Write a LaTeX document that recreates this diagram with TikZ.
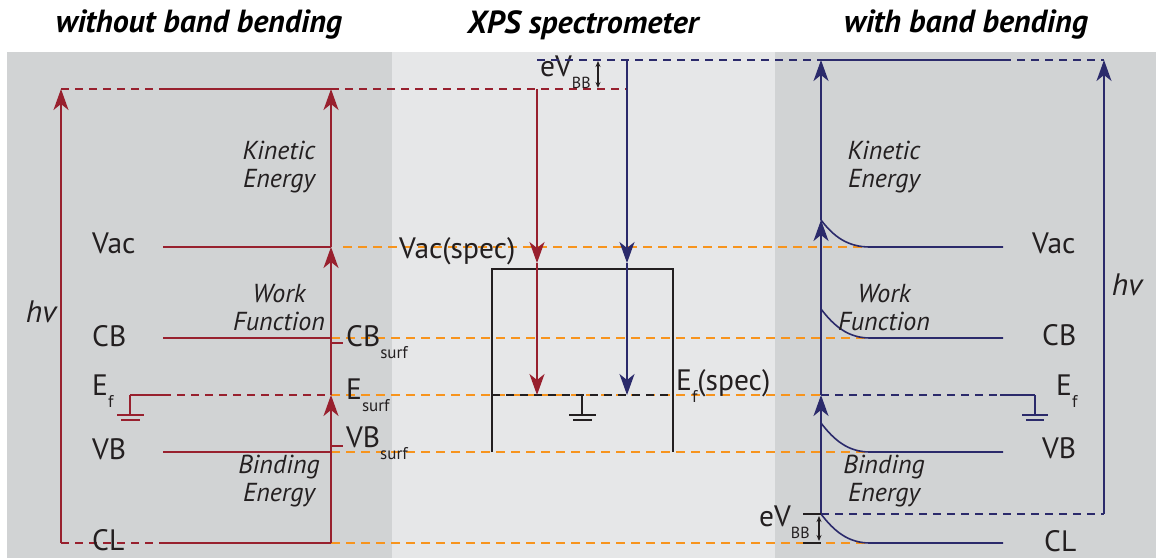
\documentclass[tikz,border=0pt]{standalone}
\usepackage{fontspec}
\setmainfont{PT Sans}
\usetikzlibrary{arrows.meta}
\definecolor{myred}{HTML}{98202E}
\definecolor{myblue}{HTML}{2B2A6B}
\definecolor{myorange}{HTML}{F7941D}
\definecolor{sidepanel}{HTML}{D1D3D4}
\definecolor{midpanel}{HTML}{E6E7E8}
\definecolor{ink}{HTML}{231F20}
\newcommand{\lvsub}[2]{#1\raisebox{-0.4em}{\fontsize{17}{17}\selectfont #2}}
\tikzset{
  lvl/.style={line width=1.6pt},
  dsh/.style={line width=1.6pt, dash pattern=on 8pt off 6pt},
  odsh/.style={myorange, line width=1.6pt, dash pattern=on 9pt off 6pt},
  arr/.style={-{Stealth[length=21pt,width=15pt,inset=6pt]}},
  smallarr/.style={{Stealth[length=6pt,width=5pt]}-{Stealth[length=6pt,width=5pt]}, line width=1.2pt, ink},
  lab/.style={font=\fontsize{29.5}{29.5}\selectfont, text=ink, inner sep=0pt},
  ital/.style={font=\fontsize{26}{28}\selectfont\itshape, text=ink, align=center, inner sep=0pt},
  ttl/.style={font=\fontsize{32}{32}\selectfont\bfseries\itshape, text=black, inner sep=0pt},
  gnd/.style={line width=1.6pt},
}
\begin{document}
\begin{tikzpicture}[x=1pt,y=-1pt]
\useasboundingbox (0,0) rectangle (1156,558);
% panels
\fill[sidepanel] (7,52) rectangle (392,558);
\fill[midpanel] (392,52) rectangle (775,558);
\fill[sidepanel] (775,52) rectangle (1156,558);
% titles
\node[ttl] (t1) at (199,25) {without band bending};
\node[ttl] (t2) at (583,25) {XPS spectrometer};
\node[ttl] (t3) at (966,25) {with band bending};

% coordinates: left panel
\coordinate (LhvB) at (61,543);   \coordinate (LhvT) at (61,89);
\coordinate (LkCL) at (331,543); \coordinate (LkEf) at (331,395);
\coordinate (LkVac) at (331,247); \coordinate (LkTop) at (331,89);
\coordinate (LTopS) at (163,89);
\coordinate (LVacS) at (163,247); \coordinate (LCBS) at (163,338);
\coordinate (LEfS) at (163,395); \coordinate (LVBS) at (163,452);
\coordinate (LCLS) at (163,543); \coordinate (LkCB) at (331,338);
\coordinate (LkVB) at (331,452);
\coordinate (LGnd) at (130,395); \coordinate (LGndB) at (130,415);
% middle
\coordinate (MrT) at (537,89); \coordinate (MrV) at (537,263); \coordinate (MrE) at (537,395);
\coordinate (MbT) at (627,60); \coordinate (MbV) at (627,263); \coordinate (MbE) at (627,395);
\coordinate (BoxTL) at (492,269); \coordinate (BoxTR) at (673,269);
\coordinate (BoxBL) at (492,452); \coordinate (BoxBR) at (673,452);
\coordinate (BoxEL) at (492,395); \coordinate (BoxER) at (673,395);
\coordinate (MGnd) at (582,395); \coordinate (MGndB) at (582,415);
\coordinate (RedEnd) at (627,89); \coordinate (BlueStart) at (537,60);
% right
\coordinate (RkB) at (821,514); \coordinate (RkEf) at (821,395);
\coordinate (RkVac) at (821,220); \coordinate (RkTop) at (821,60);
\coordinate (RTopE) at (1003,60); \coordinate (RhvT) at (1104,60); \coordinate (RhvB) at (1104,514);
\coordinate (RkCB) at (821,309); \coordinate (RkVB) at (821,423);
\coordinate (RVacF) at (870,247); \coordinate (RCBF) at (870,338);
\coordinate (RVBF) at (870,452); \coordinate (RCLF) at (870,543);
\coordinate (RVacE) at (1003,247); \coordinate (RCBE) at (1003,338);
\coordinate (RVBE) at (1003,452); \coordinate (RCLE) at (1003,543);
\coordinate (REfE) at (1000,395); \coordinate (RGnd) at (1035,395); \coordinate (RGndB) at (1035,415);

% orange dashed lines
\draw[odsh] (343,247) -- (RVacF);
\draw[odsh] (LkCB) -- (RCBF);
\draw[odsh] (LkEf) -- (RkEf);
\draw[odsh] (LkVB) -- (RVBF);
\draw[odsh] (LkCL) -- (RCLF);

% ---------- left panel (red) ----------
\begin{scope}[myred]
\draw[dsh] (LhvT) -- (LTopS);
\draw[lvl] (LTopS) -- (LkTop);
\draw[dsh] (LkTop) -- (RedEnd);
\draw[lvl] (LVacS) -- (LkVac);
\draw[lvl] (LCBS) -- (LkCB);
\draw[lvl] (LGnd) -- (LEfS);
\draw[dsh] (LEfS) -- (LkEf);
\draw[lvl] (LVBS) -- (LkVB);
\draw[dsh] (LhvB) -- (LCLS);
\draw[lvl] (LCLS) -- (LkCL);
\draw[lvl,arr] (LhvB) -- (LhvT);
\draw[lvl,arr] (LkCL) -- (LkEf);
\draw[lvl,arr] (LkEf) -- (LkVac);
\draw[lvl,arr] (LkVac) -- (LkTop);
\draw[lvl] (331,343) -- (343,343);
\draw[lvl] (331,446) -- (343,446);
\draw[gnd] (LGnd) -- (LGndB);
\draw[line width=1.2pt] (117,415) -- (144,415);
\draw[line width=1.2pt] (121,420) -- (140,420);
\end{scope}
\node[lab,anchor=west] (lvac) at (92,243) {Vac};
\node[lab,anchor=west] (lcb) at (92,336) {CB};
\node[lab,anchor=west] (lef) at (92,391) {\lvsub{E}{f}};
\node[lab,anchor=west] (lvb) at (92,449) {VB};
\node[lab,anchor=west] (lcl) at (92,540) {CL};
\node[ital] (lhv) at (41,312) {\fontsize{31}{31}\selectfont hv};
\node[ital] (lke) at (279,167) {Kinetic\\Energy};
\node[ital] (lwf) at (279,308) {Work\\Function};
\node[ital] (lbe) at (279,481) {Binding\\Energy};
\node[lab,anchor=west] (cbs) at (346,342) {\lvsub{CB}{surf}};
\node[lab,anchor=west] (es) at (346,395) {\lvsub{E}{surf}};
\node[lab,anchor=west] (vbs) at (346,443) {\lvsub{VB}{surf}};

% ---------- middle ----------
\draw[ink,line width=1.8pt] (BoxBL) -- (BoxTL) -- (BoxTR) -- (BoxBR);
\draw[ink,line width=1.6pt,dash pattern=on 8pt off 6pt] (BoxEL) -- (BoxER);
\draw[ink,gnd] (MGnd) -- (MGndB);
\draw[ink,line width=1.2pt] (569,415) -- (596,415);
\draw[ink,line width=1.2pt] (573,420) -- (592,420);
\draw[myred,lvl,arr] (MrT) -- (MrV);
\draw[myred,lvl,arr] (MrV) -- (MrE);
\draw[myblue,lvl,arr] (MbT) -- (MbV);
\draw[myblue,lvl,arr] (MbV) -- (MbE);
\node[lab,anchor=west] (vspec) at (399,251) {Vac(spec)};
\node[lab,anchor=west] (efspec) at (676,386) {\lvsub{E}{f}(spec)};
\coordinate (EVa) at (598,61); \coordinate (EVb) at (598,88);
\draw[smallarr] (EVa) -- (EVb);
\node[lab,anchor=west] (evbbt) at (540,72) {\lvsub{eV}{\fontsize{16}{16}\selectfont BB}};

% ---------- right panel (blue) ----------
\begin{scope}[myblue]
\draw[dsh] (BlueStart) -- (RkTop);
\draw[lvl] (RkTop) -- (RTopE);
\draw[dsh] (RTopE) -- (RhvT);
\draw[lvl] (RkVac) .. controls (834,237) and (848,247) .. (RVacF) -- (RVacE);
\draw[lvl] (RkCB) .. controls (834,326) and (848,338) .. (RCBF) -- (RCBE);
\draw[lvl] (RkVB) .. controls (834,440) and (848,452) .. (RVBF) -- (RVBE);
\draw[lvl] (RkB) .. controls (834,531) and (848,543) .. (RCLF) -- (RCLE);
\draw[dsh] (RkEf) -- (REfE);
\draw[lvl] (REfE) -- (RGnd);
\draw[gnd] (RGnd) -- (RGndB);
\draw[line width=1.2pt] (1022,415) -- (1048,415);
\draw[line width=1.2pt] (1026,420) -- (1044,420);
\draw[dsh] (RkB) -- (RhvB);
\draw[lvl,arr] (RkB) -- (RkEf);
\draw[lvl,arr] (RkEf) -- (RkVac);
\draw[lvl,arr] (RkVac) -- (RkTop);
\draw[lvl,arr] (RhvB) -- (RhvT);
\end{scope}
\draw[ink,line width=1.4pt] (803,514) -- (RkB);
\draw[ink,line width=1.4pt] (803,543) -- (821,543);
\coordinate (EVc) at (819,516); \coordinate (EVd) at (819,541);
\draw[smallarr] (EVc) -- (EVd);
\node[lab,anchor=west] (evbbb) at (759,522) {\lvsub{eV}{\fontsize{16}{16}\selectfont BB}};
\node[lab,anchor=west] (rvac) at (1032,243) {Vac};
\node[lab,anchor=west] (rcb) at (1042,335) {CB};
\node[lab,anchor=west] (ref) at (1056,391) {\lvsub{E}{f}};
\node[lab,anchor=west] (rvb) at (1042,448) {VB};
\node[lab,anchor=west] (rcl) at (1044,541) {CL};
\node[ital] (rhv) at (1127,285) {\fontsize{31}{31}\selectfont hv};
\node[ital] (rke) at (884,167) {Kinetic\\Energy};
\node[ital] (rwf) at (884,308) {Work\\Function};
\node[ital] (rbe) at (884,481) {Binding\\Energy};
\end{tikzpicture}
\end{document}
